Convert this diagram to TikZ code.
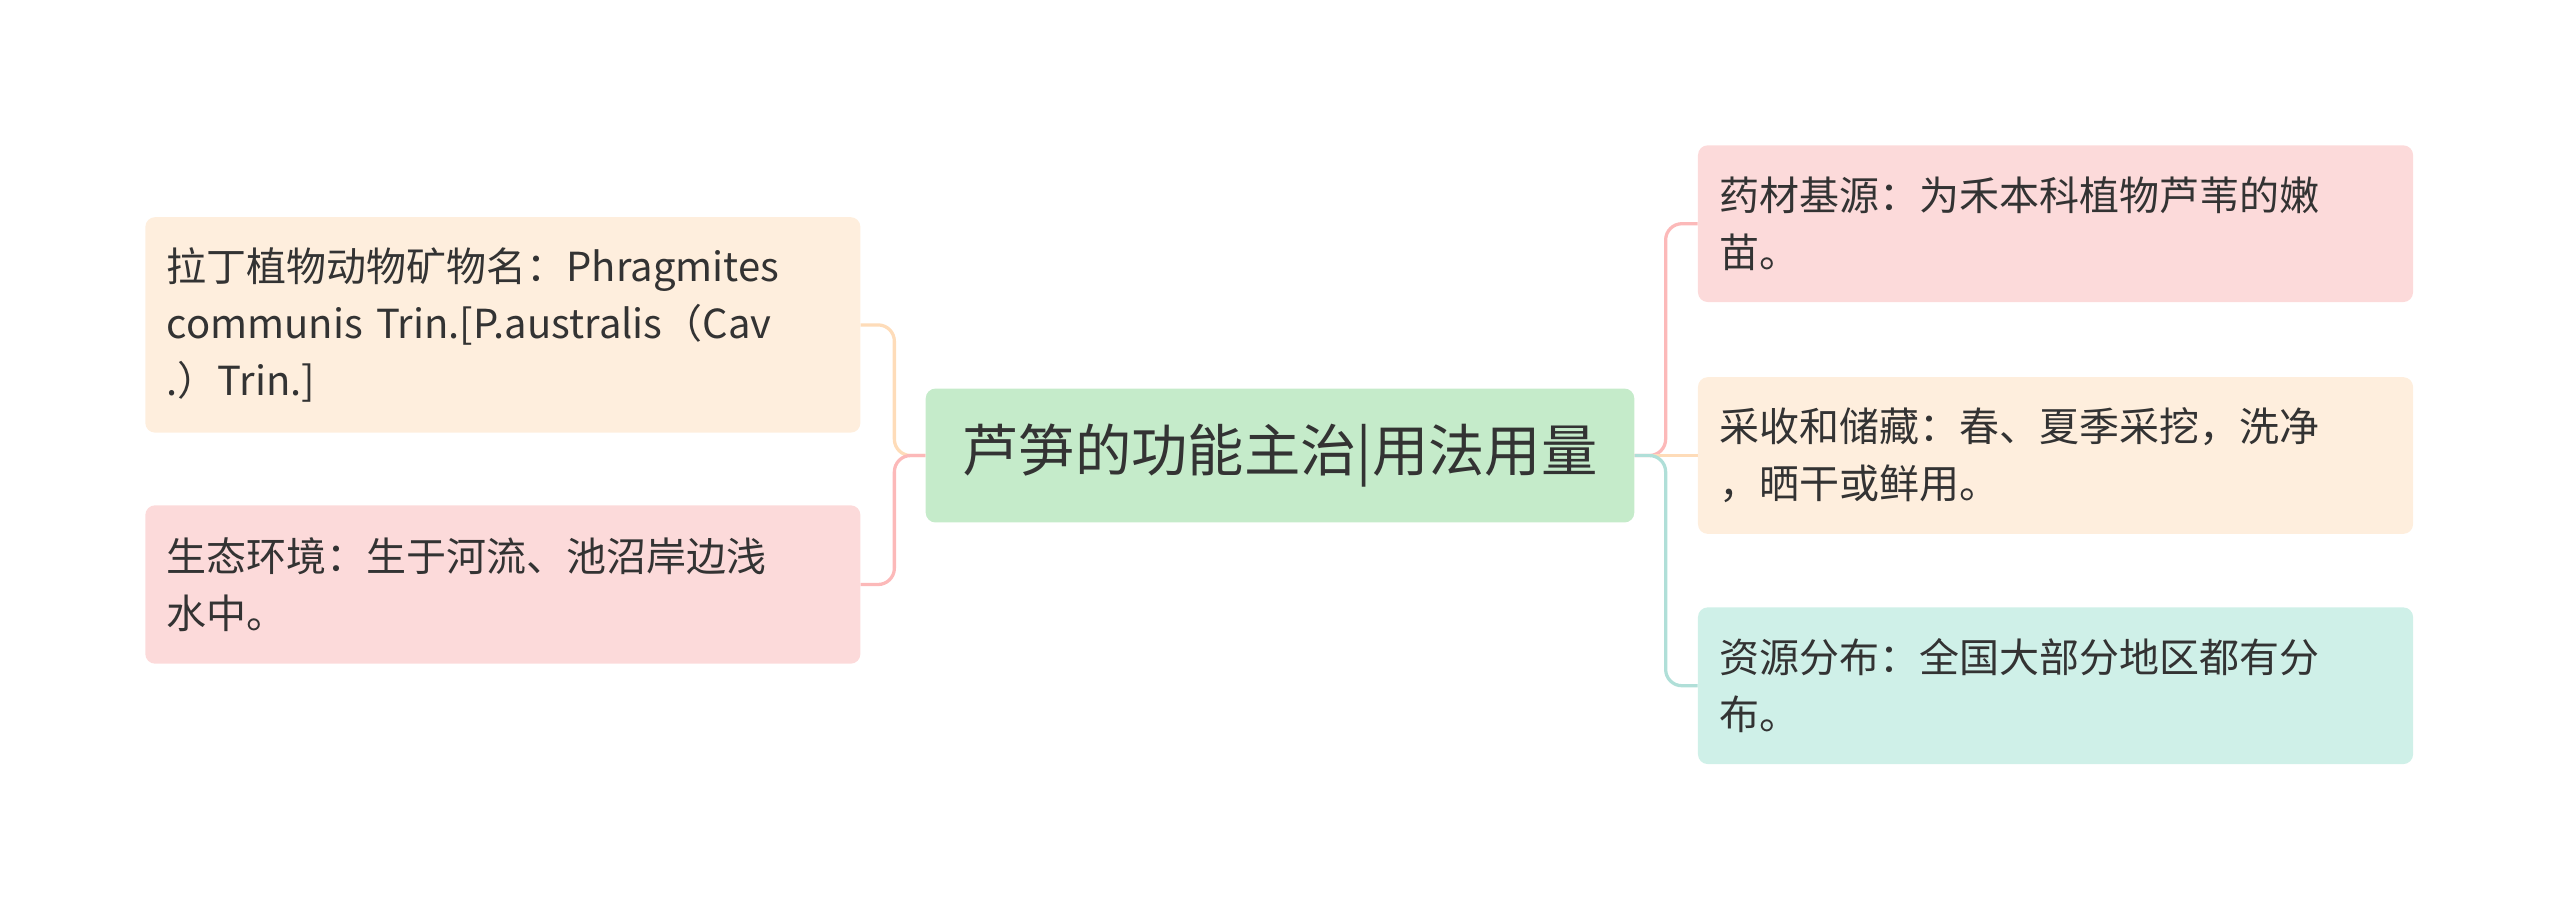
\documentclass[tikz,border=0pt]{standalone}
\usepackage{fontspec}
\setmainfont{Noto Sans CJK SC}
\begin{document}
\begin{tikzpicture}[x=1pt,y=-1pt,
  box/.style={rounded corners=6pt,minimum width=438pt,inner sep=0pt,text=black!80,font=\fontsize{24.5}{35}\selectfont,align=left,text width=412pt},
  con/.style={line width=2pt,rounded corners=10pt}]
\useasboundingbox (0,0) rectangle (1568,558);
\definecolor{pk}{HTML}{FCDADA}\definecolor{pc}{HTML}{FEEEDD}\definecolor{mt}{HTML}{CFF0E8}\definecolor{gr}{HTML}{C5EBCA}
\node[rounded corners=6pt,fill=gr,minimum width=434pt,minimum height=82pt,text=black!80,font=\fontsize{34.5}{40}\selectfont] (c) at (784,279) {芦笋的功能主治|用法用量};
\node[box,fill=pc,minimum height=132pt] (l1) at (308,199) {拉丁植物动物矿物名：Phragmites\\ communis Trin.[P.australis（Cav\\.）Trin.]};
\node[box,fill=pk,minimum height=97pt] (l2) at (308,358) {生态环境：生于河流、池沼岸边浅\\水中。};
\node[box,fill=pk,minimum height=96pt] (r1) at (1259,137) {药材基源：为禾本科植物芦苇的嫩\\苗。};
\node[box,fill=pc,minimum height=96pt] (r2) at (1259,279) {采收和储藏：春、夏季采挖，洗净\\，晒干或鲜用。};
\node[box,fill=mt,minimum height=96pt] (r3) at (1259,420) {资源分布：全国大部分地区都有分\\布。};
\draw[con,draw=pc!80!orange!90] (c.west) -- ++(-19,0) |- (l1.east);
\draw[con,draw=pk!85!red] (c.west) -- ++(-19,0) |- (l2.east);
\draw[con,draw=pk!85!red] (c.east) -- ++(19,0) |- (r1.west);
\draw[con,draw=pc!80!orange!90] (c.east) -- (r2.west);
\draw[con,draw=mt!85!teal] (c.east) -- ++(19,0) |- (r3.west);
\end{tikzpicture}
\end{document}
